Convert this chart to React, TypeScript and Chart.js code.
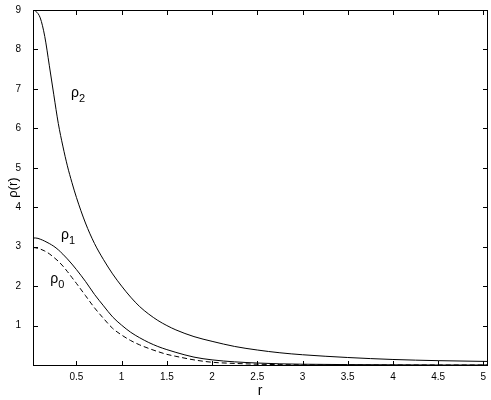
import React, { useEffect, useRef } from "react";
import { Chart, registerables } from "chart.js";

Chart.register(...registerables);

const rValues = [0.02, 0.05, 0.1, 0.15, 0.2, 0.25, 0.3, 0.35, 0.4, 0.45, 0.5, 0.6, 0.7, 0.8, 0.9, 1.0, 1.1, 1.2, 1.3, 1.4, 1.5, 1.6, 1.8, 2.0, 2.25, 2.5, 2.75, 3.0, 3.5, 4.0, 4.5, 5.04];
const rho2 = [9.0, 8.97, 8.8, 8.33, 7.6, 6.85, 6.12, 5.55, 5.05, 4.63, 4.25, 3.6, 3.08, 2.67, 2.31, 2.0, 1.72, 1.48, 1.29, 1.13, 1.0, 0.89, 0.72, 0.6, 0.47, 0.38, 0.31, 0.26, 0.19, 0.14, 0.11, 0.09];
const rho1 = [3.22, 3.22, 3.19, 3.14, 3.08, 3.01, 2.92, 2.81, 2.69, 2.56, 2.42, 2.12, 1.79, 1.5, 1.22, 1.01, 0.83, 0.69, 0.57, 0.47, 0.39, 0.32, 0.2, 0.13, 0.08, 0.05, 0.03, 0.02, 0.01, 0.005, 0.0, 0.0];
const rho0 = [2.98, 2.97, 2.94, 2.89, 2.82, 2.73, 2.63, 2.51, 2.37, 2.22, 2.07, 1.76, 1.45, 1.18, 0.93, 0.76, 0.62, 0.51, 0.42, 0.34, 0.27, 0.22, 0.13, 0.07, 0.04, 0.02, 0.01, 0.005, 0.0, 0.0, 0.0, 0.0];

const xTicks = [0.5, 1, 1.5, 2, 2.5, 3, 3.5, 4, 4.5, 5];
const yTicks = [1, 2, 3, 4, 5, 6, 7, 8, 9];
const xMin = 0.02;
const xMax = 5.04;
const yMin = 0;
const yMax = 9;

const labelSubs = ["2", "1", "0"];
const labelR = [0.44, 0.33, 0.21];
const labelY = [6.79, 3.19, 2.09];

const FONT = '"Liberation Sans", Arial, Helvetica, sans-serif';

export default function App() {
  const ref = useRef<HTMLCanvasElement | null>(null);

  useEffect(() => {
    if (!ref.current) return;
    const boxPlugin = {
      id: "boxTicks",
      afterDraw(chart: any) {
        const ctx = chart.ctx;
        const ca = chart.chartArea;
        const xs = chart.scales.x;
        const ys = chart.scales.y;
        const L = 4;
        const left = Math.round(ca.left);
        const right = Math.round(ca.right);
        const top = Math.round(ca.top);
        const bottom = Math.round(ca.bottom);
        ctx.save();
        ctx.fillStyle = "#000";
        ctx.fillRect(left, top, right - left, 1);
        ctx.fillRect(left, bottom, right - left + 1, 1);
        ctx.fillRect(left, top, 1, bottom - top);
        ctx.fillRect(right, top, 1, bottom - top);
        for (const v of xTicks) {
          const px = Math.round(xs.getPixelForValue(v));
          ctx.fillRect(px, bottom - L, 1, L);
          ctx.fillRect(px, top + 1, 1, L);
        }
        for (const v of yTicks) {
          const py = Math.round(ys.getPixelForValue(v));
          ctx.fillRect(left + 1, py, L, 1);
          ctx.fillRect(right - L, py, L, 1);
        }
        ctx.textBaseline = "alphabetic";
        ctx.textAlign = "left";
        for (let i = 0; i < labelSubs.length; i++) {
          const px = xs.getPixelForValue(labelR[i]);
          const py = ys.getPixelForValue(labelY[i]);
          ctx.font = `14px ${FONT}`;
          ctx.fillText("\u03c1", px, py);
          const w = ctx.measureText("\u03c1").width;
          ctx.font = `11px ${FONT}`;
          ctx.fillText(labelSubs[i], px + w, py + 5);
        }
        ctx.restore();
      },
    };

    const mk = (label: string, vals: number[], dash: number[]) => ({
      label,
      data: rValues.map((r, i) => ({ x: r, y: vals[i] })),
      borderColor: "#000",
      backgroundColor: "#000",
      borderWidth: 1,
      borderDash: dash,
      pointRadius: 0,
      fill: false,
      cubicInterpolationMode: "monotone",
    });

    const chart = new Chart(ref.current, {
      type: "line",
      data: {
        datasets: [mk("rho2", rho2, []), mk("rho1", rho1, []), mk("rho0", rho0, [5, 3])],
      },
      options: {
        animation: false,
        responsive: false,
        layout: { padding: { top: 7, right: 4, left: 0, bottom: 0 } },
        plugins: { legend: { display: false }, tooltip: { enabled: false } },
        scales: {
          x: {
            type: "linear",
            min: xMin,
            max: xMax,
            afterBuildTicks: (s: any) => {
              s.ticks = xTicks.map((v) => ({ value: v }));
            },
            afterFit: (s: any) => {
              s.height = 35;
            },
            grid: { display: false },
            border: { display: false },
            ticks: {
              color: "#000",
              font: { family: FONT, size: 10 },
              padding: -2,
              maxRotation: 0,
              autoSkip: false,
              callback: (v: any) => String(v),
            },
            title: {
              display: true,
              text: "r",
              color: "#000",
              font: { family: FONT, size: 14 },
              padding: { top: 0, bottom: 0 },
            },
          },
          y: {
            type: "linear",
            min: yMin,
            max: yMax,
            afterBuildTicks: (s: any) => {
              s.ticks = yTicks.map((v) => ({ value: v }));
            },
            afterFit: (s: any) => {
              s.width = 33;
            },
            grid: { display: false },
            border: { display: false },
            ticks: {
              color: "#000",
              font: { family: FONT, size: 10 },
              padding: 4,
              autoSkip: false,
              callback: (v: any) => String(v),
            },
            title: {
              display: true,
              text: "\u03c1(r)",
              color: "#000",
              font: { family: FONT, size: 13 },
              padding: { top: 6, bottom: 0 },
            },
          },
        },
      },
      plugins: [boxPlugin],
    } as any);
    return () => chart.destroy();
  }, []);

  return (
    <div style={{ position: "absolute", left: 0, top: 0, width: 491, height: 400, background: "#fff" }}>
      <canvas ref={ref} width={491} height={400} style={{ display: "block" }} />
    </div>
  );
}
